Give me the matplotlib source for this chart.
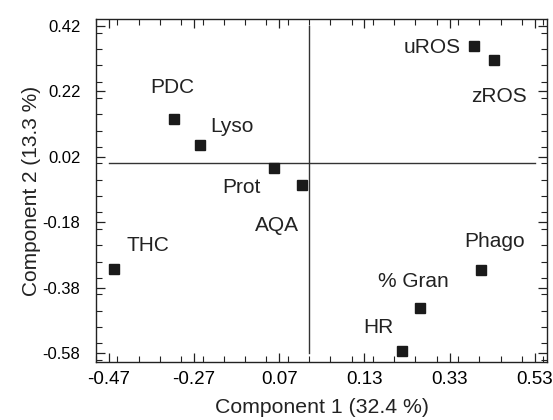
import numpy as np
import matplotlib
matplotlib.use("Agg")
import matplotlib.pyplot as plt
from matplotlib.ticker import MultipleLocator

plt.rcParams["font.family"] = ["Liberation Sans", "DejaVu Sans"]

# Loadings
names = ["PDC", "Lyso", "Prot", "AQA", "uROS", "zROS", "Phago", "% Gran", "HR", "THC"]
comp1 = [-0.317, -0.255, -0.082, -0.017, 0.387, 0.434, 0.405, 0.261, 0.218, -0.458]
comp2 = [0.136, 0.055, -0.013, -0.066, 0.359, 0.316, -0.326, -0.441, -0.574, -0.324]

# where each name sits
label_x = [-0.320, -0.180, -0.159, -0.075, 0.290, 0.445, 0.435, 0.244, 0.162, -0.379]
label_y = [0.231, 0.112, -0.074, -0.189, 0.354, 0.206, -0.240, -0.360, -0.503, -0.250]

xticks = [-0.47, -0.27, -0.07, 0.13, 0.33, 0.53]
xtick_labels = ["-0.47", "-0.27", "0.07", "0.13", "0.33", "0.53"]
yticks = [-0.58, -0.38, -0.18, 0.02, 0.22, 0.42]
ytick_labels = ["-0.58", "-0.38", "-0.18", "0.02", "0.22", "0.42"]

fig = plt.figure(figsize=(5.53, 4.2), dpi=100)
ax = fig.add_axes([0.173, 0.139, 0.817, 0.815])

# crosshair through the origin
ax.plot([-0.47, 0.53], [0, 0], color="#333333", lw=1.0, zorder=1)
ax.plot([0, 0], [-0.58, 0.42], color="#333333", lw=1.0, zorder=1)

ax.plot(comp1, comp2, "s", color="#1a1a1a", markersize=7.5, zorder=3)

for name, lx, ly in zip(names, label_x, label_y):
    box = None
    if name == "AQA":
        box = dict(facecolor="white", edgecolor="none", pad=3)
    ax.text(lx, ly, name, fontsize=15, color="#222222", ha="center", va="center",
            bbox=box, zorder=2)

ax.set_xlim(-0.501, 0.56)
ax.set_ylim(-0.606, 0.4405)

ax.set_xticks(xticks)
ax.set_xticklabels(xtick_labels, fontsize=13.5)
ax.set_yticks(yticks)
ax.set_yticklabels(ytick_labels, fontsize=12)
ax.xaxis.set_minor_locator(MultipleLocator(0.05))
ax.yaxis.set_minor_locator(MultipleLocator(0.05))

ax.tick_params(which="both", direction="in", top=True, right=True, color="#222222")
ax.tick_params(which="major", length=6.5, width=0.9)
ax.tick_params(which="minor", length=4, width=0.8)
ax.tick_params(axis="x", pad=7)
ax.tick_params(axis="y", pad=11)

for s in ax.spines.values():
    s.set_linewidth(1.0)
    s.set_color("#222222")

ax.set_xlabel("Component 1 (32.4 %)", fontsize=15.3, color="#222222")
ax.set_ylabel("Component 2 (13.3 %)", fontsize=15, color="#222222")
ax.xaxis.label.set_va("center")
ax.yaxis.label.set_va("center")
ax.xaxis.set_label_coords(0.5, -0.135)
ax.yaxis.set_label_coords(-0.143, 0.5)

fig.savefig("out.png", dpi=100)
